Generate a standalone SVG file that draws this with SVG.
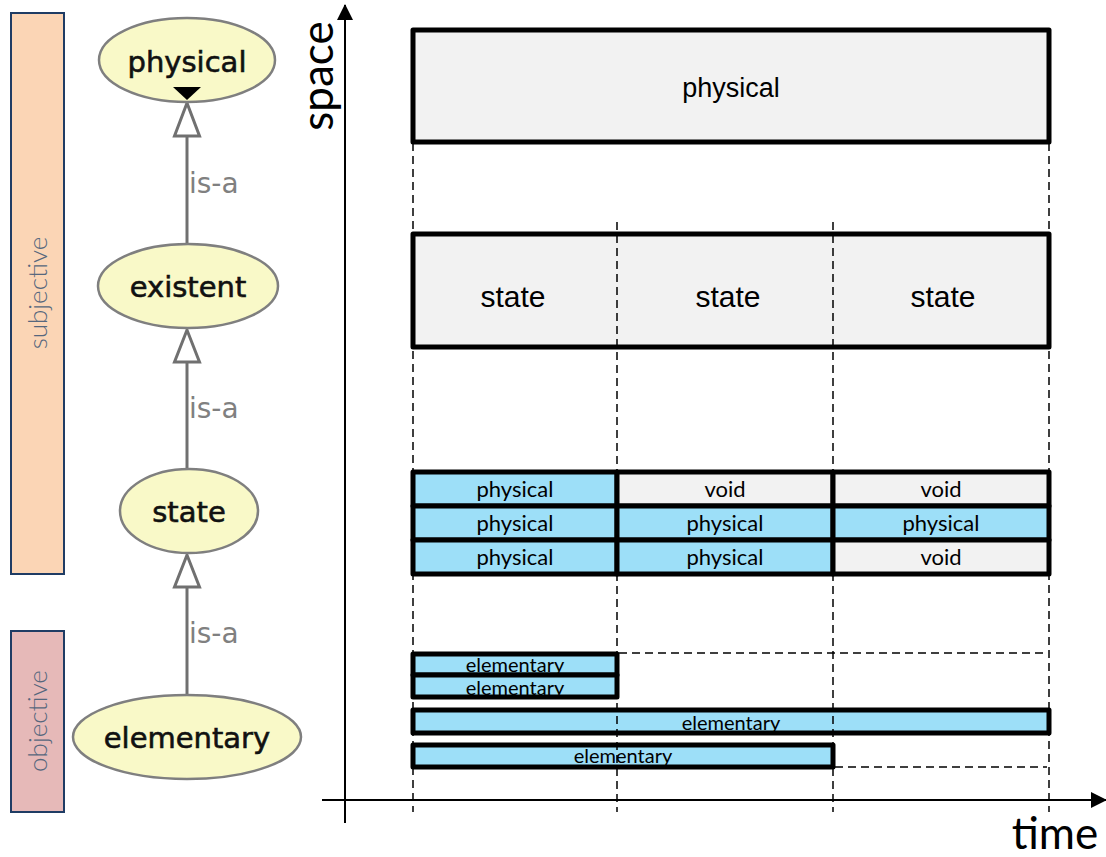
<svg xmlns="http://www.w3.org/2000/svg" width="1106" height="857" viewBox="0 0 1106 857">
  <style>
    .band { stroke: #1f3c64; stroke-width: 2; }
    .band-label { font-family: Lato, "Liberation Sans", sans-serif; font-size: 26px; font-weight: 300; fill: #56677d; text-anchor: middle; }
    .concept { fill: #f9f9c8; stroke: #7f7f7f; stroke-width: 2.5; }
    .concept-label { font-family: "DejaVu Sans", sans-serif; font-size: 29px; fill: #111; stroke: #111; stroke-width: 0.6; text-anchor: middle; }
    .edge { stroke: #707070; stroke-width: 3; fill: none; }
    .head { fill: #fff; stroke: #707070; stroke-width: 3; stroke-linejoin: miter; }
    .edge-label { font-family: "DejaVu Sans", sans-serif; font-size: 28px; fill: #808080; }
    .axis { stroke: #000; stroke-width: 2; fill: none; }
    .axis-label { font-family: Lato, "Liberation Sans", sans-serif; font-size: 44px; fill: #000; }
    .guide { stroke: #000; stroke-width: 1.5; stroke-dasharray: 8 5; fill: none; }
    .box { stroke: #000; stroke-width: 5; stroke-linejoin: round; }
    .grey { fill: #f2f2f2; }
    .blue { fill: #9ddff8; }
    .big { font-family: "Liberation Sans", Arial, sans-serif; fill: #000; text-anchor: middle; }
    .cell { font-family: Lato, "Liberation Sans", sans-serif; font-size: 22px; fill: #000; text-anchor: middle; }
    .bar { font-family: Lato, "Liberation Sans", sans-serif; font-size: 20px; fill: #000; text-anchor: middle; }
  </style>
  <defs>
    <marker id="axis-head" viewBox="0 0 16 16" refX="15" refY="8" markerWidth="16" markerHeight="16" markerUnits="userSpaceOnUse" orient="auto">
      <path d="M0,0 L16,8 L0,16 Z" fill="#000"/>
    </marker>
  </defs>

  <rect width="1106" height="857" fill="#fff"/>

  <!-- side bands -->
  <g id="band-subjective">
    <rect class="band" x="11" y="13" width="53" height="561" fill="#fbd5b5"/>
    <text class="band-label" transform="translate(47,293) rotate(-90)">subjective</text>
  </g>
  <g id="band-objective">
    <rect class="band" x="11" y="631" width="53" height="181" fill="#e6b9b8"/>
    <text class="band-label" transform="translate(47,721) rotate(-90)">objective</text>
  </g>

  <!-- is-a hierarchy edges -->
  <g id="connectors">
    <line class="edge" x1="187" y1="136" x2="187" y2="244"/>
    <polygon class="head" points="187,103 174.5,136 199.5,136"/>
    <text class="edge-label" x="189" y="193">is-a</text>

    <line class="edge" x1="187" y1="362" x2="187" y2="469"/>
    <polygon class="head" points="187,330 174.5,362 199.5,362"/>
    <text class="edge-label" x="189" y="418">is-a</text>

    <line class="edge" x1="187" y1="587" x2="187" y2="695"/>
    <polygon class="head" points="187,555 174.5,587 199.5,587"/>
    <text class="edge-label" x="189" y="643">is-a</text>
  </g>

  <!-- hierarchy nodes -->
  <g id="node-physical">
    <ellipse class="concept" cx="187" cy="60" rx="88" ry="42"/>
    <text class="concept-label" x="187" y="72">physical</text>
    <polygon points="173,87 201,87 187,100" fill="#000"/>
  </g>
  <g id="node-existent">
    <ellipse class="concept" cx="188" cy="286" rx="90" ry="42"/>
    <text class="concept-label" x="188" y="297">existent</text>
  </g>
  <g id="node-state">
    <ellipse class="concept" cx="189" cy="511" rx="69" ry="42"/>
    <text class="concept-label" x="189" y="522">state</text>
  </g>
  <g id="node-elementary">
    <ellipse class="concept" cx="187" cy="737" rx="114" ry="42"/>
    <text class="concept-label" x="187" y="748">elementary</text>
  </g>

  <!-- space-time axes -->
  <g id="axes">
    <line class="axis" x1="345" y1="823" x2="345" y2="5" marker-end="url(#axis-head)"/>
    <line class="axis" x1="322" y1="800" x2="1106" y2="800" marker-end="url(#axis-head)"/>
    <text class="axis-label" transform="translate(333,76) rotate(-90)" text-anchor="middle">space</text>
    <text class="axis-label" x="1055" y="849" text-anchor="middle">time</text>
  </g>

  <!-- physical extent -->
  <g id="box-physical">
    <rect class="box grey" x="413" y="30" width="636" height="112"/>
    <text class="big" x="731" y="97" font-size="27">physical</text>
  </g>

  <!-- states over time -->
  <g id="box-states">
    <rect class="box grey" x="413" y="234" width="636" height="113"/>
    <text class="big" x="513" y="307" font-size="30">state</text>
    <text class="big" x="728" y="307" font-size="30">state</text>
    <text class="big" x="943" y="307" font-size="30">state</text>
  </g>

  <!-- per-state occupancy grid -->
  <g id="grid-occupancy">
    <rect class="box blue" x="413" y="472" width="204" height="34"/>
    <rect class="box grey" x="617" y="472" width="216" height="34"/>
    <rect class="box grey" x="833" y="472" width="216" height="34"/>
    <rect class="box blue" x="413" y="506" width="204" height="34"/>
    <rect class="box blue" x="617" y="506" width="216" height="34"/>
    <rect class="box blue" x="833" y="506" width="216" height="34"/>
    <rect class="box blue" x="413" y="540" width="204" height="34"/>
    <rect class="box blue" x="617" y="540" width="216" height="34"/>
    <rect class="box grey" x="833" y="540" width="216" height="34"/>
    <text class="cell" x="515" y="497">physical</text>
    <text class="cell" x="725" y="497">void</text>
    <text class="cell" x="941" y="497">void</text>
    <text class="cell" x="515" y="531">physical</text>
    <text class="cell" x="725" y="531">physical</text>
    <text class="cell" x="941" y="531">physical</text>
    <text class="cell" x="515" y="565">physical</text>
    <text class="cell" x="725" y="565">physical</text>
    <text class="cell" x="941" y="565">void</text>
  </g>

  <!-- elementary lifetimes -->
  <g id="bars-elementary">
    <rect class="box blue" x="413" y="654" width="204" height="21"/>
    <rect class="box blue" x="413" y="675" width="204" height="22"/>
    <rect class="box blue" x="413" y="710" width="636" height="23"/>
    <rect class="box blue" x="413" y="745" width="420" height="22"/>
    <text class="bar" x="515" y="672">elementary</text>
    <text class="bar" x="515" y="695">elementary</text>
    <text class="bar" x="731" y="730">elementary</text>
    <text class="bar" x="623" y="763">elementary</text>
  </g>

  <!-- dashed time guides -->
  <g id="guides">
    <line class="guide" x1="413" y1="143" x2="413" y2="812"/>
    <line class="guide" x1="1049" y1="143" x2="1049" y2="812"/>
    <line class="guide" x1="617" y1="222" x2="617" y2="812"/>
    <line class="guide" x1="833" y1="222" x2="833" y2="812"/>
    <line class="guide" x1="619" y1="653" x2="1047" y2="653"/>
    <line class="guide" x1="835" y1="767" x2="1047" y2="767"/>
  </g>
</svg>
